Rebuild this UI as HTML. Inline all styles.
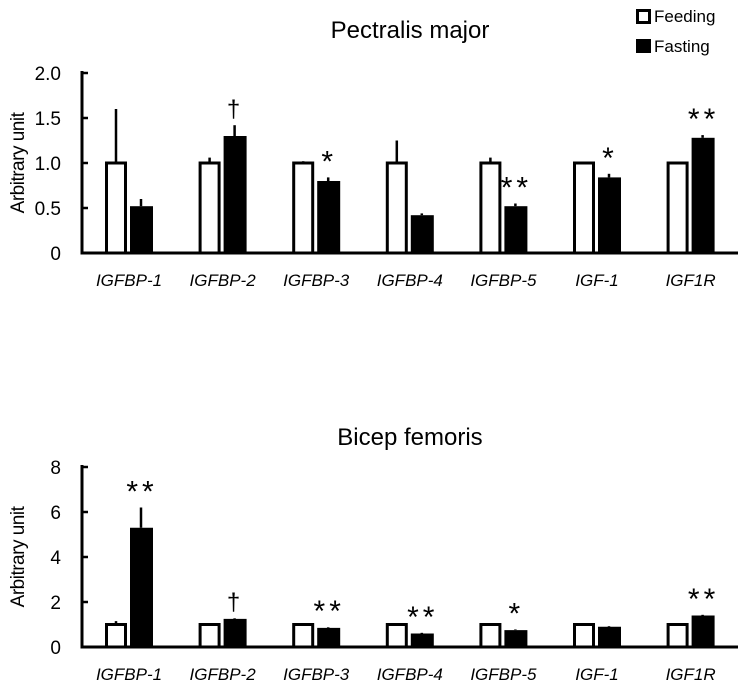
<!DOCTYPE html>
<html><head><meta charset="utf-8"><style>
body{margin:0;background:#fff;}
svg{display:block;font-family:"Liberation Sans",Calibri,sans-serif;}
</style></head><body>
<svg id="c" width="741" height="689"></svg>
<script>
const categories=["IGFBP-1","IGFBP-2","IGFBP-3","IGFBP-4","IGFBP-5","IGF-1","IGF1R"];
const topFeed=[1,1,1,1,1,1,1];
const topFeedErr=[0.6,0.06,0.02,0.25,0.06,0.01,0.01];
const topFast=[0.52,1.30,0.80,0.42,0.52,0.84,1.28];
const topFastErr=[0.08,0.12,0.04,0.02,0.03,0.04,0.03];
const topMarks=["","†","*","","**","*","**"];
const topTicks=[0,0.5,1.0,1.5,2.0];
const topTickLabels=["0","0.5","1.0","1.5","2.0"];
const botFeed=[1,1,1,1,1,1,1];
const botFeedErr=[0.15,0.05,0.02,0.05,0.02,0.02,0.02];
const botFast=[5.3,1.25,0.85,0.6,0.75,0.9,1.4];
const botFastErr=[0.9,0.03,0.03,0.03,0.03,0.03,0.03];
const botMarks=["**","†","**","**","*","","**"];
const botTicks=[0,2,4,6,8];
const botTickLabels=["0","2","4","6","8"];

const svg=document.getElementById('c');
const NS='http://www.w3.org/2000/svg';
function mk(tag,attrs,text){const e=document.createElementNS(NS,tag);for(const k in attrs)e.setAttribute(k,attrs[k]);if(text!==undefined)e.textContent=text;svg.appendChild(e);return e;}

function panel(p,feed,feedErr,fast,fastErr,marks,ticks,tickLabels,ymax,y0,yTop,title,titleY,prefix){
  const yS=v=>y0-(v/ymax)*(y0-yTop);
  const xS=i=>105+i*93.6;
  let t=mk('text',{x:410,y:titleY,'font-size':24,'text-anchor':'middle'},title);
  
  
  let ax=mk('line',{x1:82,y1:yTop-2,x2:82,y2:y0+1.5,stroke:'#000','stroke-width':3});
  
  
  let bx=mk('line',{x1:80.5,y1:y0,x2:738,y2:y0,stroke:'#000','stroke-width':3});
  
  
  ticks.forEach((v,i)=>{
    let l=mk('line',{x1:82,y1:yS(v),x2:88,y2:yS(v),stroke:'#000','stroke-width':2.5});
    
    
    let tl=mk('text',{x:61,y:yS(v)+7,'font-size':19,'text-anchor':'end'},tickLabels[i]);
    
    
  });
  let yl=mk('text',{x:0,y:0,'font-size':19,'text-anchor':'middle',transform:`translate(24,${(y0+yTop)/2}) rotate(-90)`,'letter-spacing':'-0.5'},'Arbitrary unit');
  
  
  categories.forEach((c,i)=>{
    const x=xS(i);
    let e1=mk('line',{x1:x+11,y1:yS(feed[i]),x2:x+11,y2:yS(feed[i]+feedErr[i]),stroke:'#000','stroke-width':2.5});
    
    
    let b1=mk('rect',{x:x+1.5,y:yS(feed[i]),width:19,height:y0-yS(feed[i]),fill:'#fff',stroke:'#000','stroke-width':3});
    
    
    let e2=mk('line',{x1:x+36,y1:yS(fast[i]),x2:x+36,y2:yS(fast[i]+fastErr[i]),stroke:'#000','stroke-width':2.5});
    
    
    let b2=mk('rect',{x:x+25,y:yS(fast[i]),width:23,height:y0-yS(fast[i]),fill:'#000'});
    
    
    if(marks[i]){
      const dag=marks[i]==='†';
      let m=mk('text',{x:x+37,y:yS(fast[i]+fastErr[i])+(dag?-8:-6),'font-size':dag?24:30,'text-anchor':'middle','letter-spacing':'4'},marks[i]);
      
      
    }
    let cl=mk('text',{x:x+24,y:y0+33,'font-size':17,'font-style':'italic','text-anchor':'middle'},c);
    
    
  });
}
panel('top',topFeed,topFeedErr,topFast,topFastErr,topMarks,topTicks,topTickLabels,2,253,73,'Pectralis major',38,'top');
panel('bot',botFeed,botFeedErr,botFast,botFastErr,botMarks,botTicks,botTickLabels,8,647,467,'Bicep femoris',445,'bottom');

let s1=mk('rect',{x:637.5,y:10.5,width:12,height:12,fill:'#fff',stroke:'#000','stroke-width':3});


let t1=mk('text',{x:654,y:22,'font-size':17},'Feeding');


let s2=mk('rect',{x:636,y:39,width:15,height:14,fill:'#000'});


let t2=mk('text',{x:654,y:52,'font-size':17},'Fasting');


</script>
</body></html>
